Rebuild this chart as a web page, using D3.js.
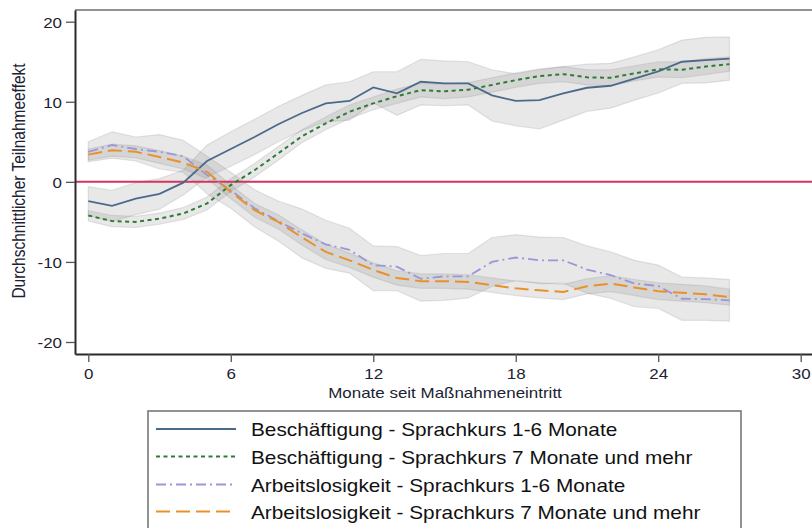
<!DOCTYPE html>
<html><head><meta charset="utf-8">
<script src="https://cdn.jsdelivr.net/npm/d3@7"></script>
<style>
html,body{margin:0;padding:0;background:#fff;}
svg{display:block;font-family:"Liberation Sans",Arial,sans-serif;}
</style></head>
<body><svg id="c" width="812" height="528"></svg>
<script>
const months = d3.range(0, 28);
const xTicks = [0, 6, 12, 18, 24, 30];
const yTicks = [-20, -10, 0, 10, 20];
const seriesNames = [
  "Beschäftigung - Sprachkurs 1-6 Monate",
  "Beschäftigung - Sprachkurs 7 Monate und mehr",
  "Arbeitslosigkeit - Sprachkurs 1-6 Monate",
  "Arbeitslosigkeit - Sprachkurs 7 Monate und mehr"
];
const xTitle = "Monate seit Maßnahmeneintritt";
const yTitle = "Durchschnittlicher Teilnahmeeffekt";

const emp16 = [-2.4,-3.0,-2.1,-1.5,-0.1,2.6,4.1,5.6,7.2,8.6,9.8,10.1,11.8,11.05,12.5,12.3,12.3,10.8,10.1,10.2,11.05,11.75,12.0,12.9,13.8,15.0,15.2,15.4];
const emp16Hi = [-0.6,-1.05,-0.1,0.4,1.45,4.6,6.25,7.8,9.4,10.8,12.1,12.5,13.75,13.75,15.3,15.1,15.0,14.0,13.5,14.0,14.4,14.7,14.8,15.6,16.5,17.7,18.05,18.1];
const emp16Lo = [-4.2,-4.95,-4.1,-3.4,-1.65,0.6,1.95,3.4,5.0,6.4,7.5,7.7,9.85,8.3,9.6,9.5,9.6,7.6,7.0,6.6,7.7,8.8,9.2,10.2,11.1,12.3,12.35,12.7];

const emp7 = [-4.2,-4.9,-5.0,-4.6,-3.95,-2.7,-0.4,1.45,3.55,5.7,7.3,8.75,9.8,10.7,11.45,11.3,11.5,12.1,12.7,13.2,13.45,13.05,13.0,13.55,14.05,14.0,14.4,14.7];
const emp7Hi = [-3.6,-4.2,-4.3,-3.9,-3.2,-1.9,0.4,2.3,4.4,6.5,8.1,9.6,10.6,11.6,12.3,12.2,12.4,13.0,13.6,14.1,14.4,14.0,14.0,14.5,15.0,15.0,15.4,15.6];
const emp7Lo = [-4.9,-5.6,-5.7,-5.3,-4.7,-3.5,-1.2,0.6,2.7,4.9,6.5,7.9,9.0,9.8,10.6,10.4,10.6,11.2,11.8,12.3,12.5,12.1,12.0,12.6,13.1,13.0,13.4,13.8];

const une16 = [3.75,4.6,4.1,3.75,3.2,0.85,-1.05,-3.3,-4.9,-6.45,-7.8,-8.5,-10.4,-10.6,-12.1,-11.8,-11.8,-10.0,-9.45,-9.8,-9.8,-10.95,-11.65,-12.7,-13.0,-14.6,-14.65,-14.8];
const une16Hi = [5.0,6.25,5.6,5.9,5.2,3.2,1.2,-1.0,-2.4,-3.4,-4.8,-5.8,-8.0,-8.1,-9.2,-8.95,-8.95,-6.95,-6.6,-6.9,-6.95,-8.0,-8.75,-9.8,-10.4,-11.9,-12.0,-12.2];
const une16Lo = [2.5,2.95,2.6,1.6,1.2,-1.5,-3.3,-5.6,-7.4,-9.5,-10.8,-11.4,-13.6,-13.6,-14.9,-14.8,-14.5,-13.05,-12.3,-12.7,-12.65,-13.9,-14.55,-15.6,-15.8,-17.3,-17.3,-17.4];

const une7 = [3.4,3.95,3.75,3.1,2.4,1.25,-1.25,-3.55,-5.0,-6.95,-8.75,-9.8,-11.0,-12.0,-12.4,-12.4,-12.5,-12.9,-13.3,-13.55,-13.75,-13.05,-12.7,-13.2,-13.65,-13.85,-14.05,-14.4];
const une7Hi = [4.1,4.7,4.5,3.9,3.2,2.1,-0.4,-2.7,-4.1,-6.0,-7.8,-8.9,-10.1,-11.1,-11.5,-11.5,-11.6,-12.0,-12.4,-12.6,-12.8,-12.1,-11.7,-12.2,-12.6,-12.8,-13.0,-13.4];
const une7Lo = [2.7,3.2,3.0,2.3,1.6,0.4,-2.1,-4.4,-5.9,-7.9,-9.7,-10.7,-11.9,-12.9,-13.3,-13.3,-13.4,-13.8,-14.2,-14.5,-14.7,-14.0,-13.7,-14.2,-14.7,-14.9,-15.1,-15.4];

const colors = ["#4b6a8b", "#2f7b35", "#9c96d8", "#e8912a"];
const dashes = [null, "4,3.5", "10,4,2,4", "14,6"];
const widths = [1.8, 2, 1.8, 2];
const SX = 1.13;

const svg = d3.select("#c");
const x = d3.scaleLinear().domain([-0.56, 30.56]).range([75, 814]);
const y = d3.scaleLinear().domain([-21.5, 21.46]).range([354, 10]);

const series = [
  {v: emp16, lo: emp16Lo, hi: emp16Hi},
  {v: emp7, lo: emp7Lo, hi: emp7Hi},
  {v: une16, lo: une16Lo, hi: une16Hi},
  {v: une7, lo: une7Lo, hi: une7Hi}
];

// bands
const area = d3.area().x(d => x(d.m)).y0(d => y(d.lo)).y1(d => y(d.hi));
series.forEach(s => {
  const pts = months.map((m, i) => ({m, lo: s.lo[i], hi: s.hi[i]}));
  svg.append("path").datum(pts).attr("d", area)
    .attr("fill", "rgba(140,140,140,0.2)")
    .attr("stroke", "rgba(140,140,140,0.22)").attr("stroke-width", 1.2);
});

// zero line
svg.append("line").attr("x1", x(-0.56)).attr("x2", x(30.56))
  .attr("y1", y(0)).attr("y2", y(0)).attr("stroke", "#d2365e").attr("stroke-width", 2);

// lines
const line = d3.line().x(d => x(d.m)).y(d => y(d.v));
series.forEach((s, k) => {
  const pts = months.map((m, i) => ({m, v: s.v[i]}));
  svg.append("path").datum(pts).attr("d", line).attr("fill", "none")
    .attr("stroke", colors[k]).attr("stroke-width", widths[k])
    .attr("stroke-dasharray", dashes[k]);
});

// frame top
svg.append("line").attr("x1", 75).attr("x2", 814).attr("y1", 10).attr("y2", 10)
  .attr("stroke", "#6e6e6e").attr("stroke-width", 1.6);

// axes
const fmt = d => String(d);
const yAx = svg.append("g").attr("transform", "translate(75,0)")
  .call(d3.axisLeft(y).tickValues(yTicks).tickFormat(fmt).tickSize(9).tickSizeOuter(0).tickPadding(4));
const xAx = svg.append("g").attr("transform", "translate(0,354)")
  .call(d3.axisBottom(x).tickValues(xTicks).tickFormat(fmt).tickSize(8).tickSizeOuter(0).tickPadding(6));
[yAx, xAx].forEach(g => {
  g.select(".domain").attr("stroke", "#2b2b2b").attr("stroke-width", 2);
  g.selectAll(".tick line").attr("stroke", "#555").attr("stroke-width", 1.3);
  g.selectAll(".tick text").attr("font-size", 15).attr("fill", "#1c2233")
    .attr("font-family", "Liberation Sans, Arial, sans-serif");
});
yAx.selectAll(".tick text").each(function() {
  const t = d3.select(this);
  const xx = +t.attr("x");
  t.attr("x", xx / SX).attr("transform", `scale(${SX},1)`).attr("dy", "0.36em");
});
xAx.selectAll(".tick text").attr("transform", `scale(${SX},1)`)
  .attr("dy", "0.72em");

// titles
svg.append("text").text(xTitle).attr("text-anchor", "middle")
  .attr("transform", `translate(445,398) scale(${SX},1)`)
  .attr("font-size", 15).attr("fill", "#1c2233");
svg.append("text").text(yTitle).attr("text-anchor", "middle")
  .attr("transform", `translate(25,181) scale(${SX},1) rotate(-90)`)
  .attr("font-size", 15.5).attr("fill", "#1c2233");

// legend
svg.append("rect").attr("x", 148).attr("y", 411).attr("width", 593).attr("height", 140)
  .attr("fill", "#fff").attr("stroke", "#777").attr("stroke-width", 1.6);
const legBase = [436, 463.5, 491.5, 518.5];
seriesNames.forEach((name, k) => {
  const by = legBase[k];
  svg.append("line").attr("x1", 156).attr("x2", 236).attr("y1", by - 7).attr("y2", by - 7)
    .attr("stroke", colors[k]).attr("stroke-width", widths[k]).attr("stroke-dasharray", dashes[k]);
  svg.append("text").text(name).attr("transform", `translate(251,${by}) scale(${SX},1)`)
    .attr("font-size", 18.4).attr("fill", "#111");
});
</script></body></html>
